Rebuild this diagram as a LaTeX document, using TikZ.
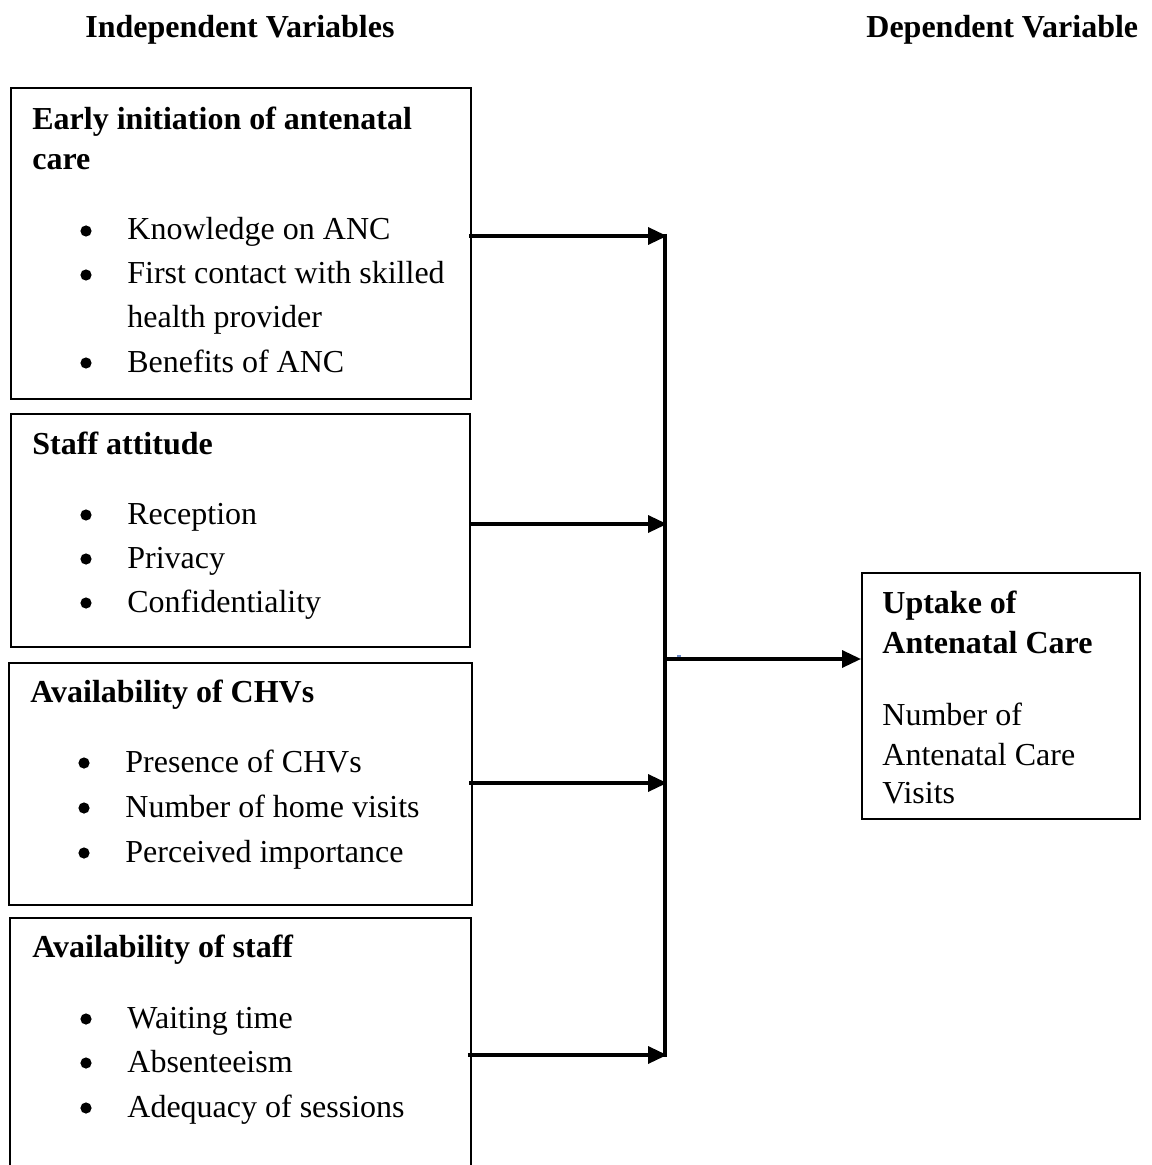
\documentclass[tikz,border=0pt]{standalone}
\usepackage{fontspec}
\setmainfont{Liberation Serif}
\usetikzlibrary{arrows.meta}
\definecolor{speck}{RGB}{110,140,200}
\begin{document}
\begin{tikzpicture}[x=0.5pt,y=-0.5pt,
  txt/.style={anchor=base west,inner sep=0pt,font=\fontsize{16pt}{22pt}\selectfont},
  ttl/.style={txt,font=\fontsize{16pt}{22pt}\selectfont\bfseries},
  dot/.style={circle,fill=black,inner sep=0pt,minimum size=5.6pt},
  boxframe/.style={draw,line width=1pt,inner sep=0pt,anchor=north west},
  arr/.style={line width=1.7pt,-{Triangle[length=9.5pt,width=8.5pt]}},
  vline/.style={line width=1.7pt}]
\useasboundingbox (0,0) rectangle (1151,1165);
% headers
\node[ttl] (hind) at (85,38) {Independent Variables};
\node[ttl] (hdep) at (866,38) {Dependent Variable};
% boxes
\node[boxframe,minimum width=230pt,minimum height=155.5pt] (b1) at (10,87) {};
\node[boxframe,minimum width=229.5pt,minimum height=116.5pt] (b2) at (10,413) {};
\node[boxframe,minimum width=231.5pt,minimum height=121pt] (b3) at (8,662) {};
\node[inner sep=0pt,anchor=north west,minimum width=230pt,minimum height=123.5pt] (b4) at (10,918) {};
\draw[line width=1pt] (b4.south west) -- (b4.north west) -- (b4.north east) -- (b4.south east);
\node[boxframe,minimum width=139pt,minimum height=123pt] (out) at (861,572) {};
% box 1 text
\node[ttl] (t1a) at (32,130) {Early initiation of antenatal};
\node[ttl] (t1b) at (32,170) {care};
\node[dot] (k1) at (86,231) {};
\node[txt] (k1t) at (127,240) {Knowledge on ANC};
\node[dot] (k2) at (86,275) {};
\node[txt] (k2t) at (127,284) {First contact with skilled};
\node[txt] (k2u) at (127,328) {health provider};
\node[dot] (k3) at (86,363) {};
\node[txt] (k3t) at (127,372) {Benefits of ANC};
% box 2 text
\node[ttl] (t2) at (32,454) {Staff attitude};
\node[dot] (s1) at (86,515) {};
\node[txt] (s1t) at (127,524) {Reception};
\node[dot] (s2) at (86,559) {};
\node[txt] (s2t) at (127,568) {Privacy};
\node[dot] (s3) at (86,603) {};
\node[txt] (s3t) at (127,612) {Confidentiality};
% box 3 text
\node[ttl] (t3) at (30,702) {Availability of CHVs};
\node[dot] (c1) at (84,763) {};
\node[txt] (c1t) at (125,772) {Presence of CHVs};
\node[dot] (c2) at (84,808) {};
\node[txt] (c2t) at (125,817) {Number of home visits};
\node[dot] (c3) at (84,853) {};
\node[txt] (c3t) at (125,862) {Perceived importance};
% box 4 text
\node[ttl] (t4) at (32,957) {Availability of staff};
\node[dot] (a1) at (86,1019) {};
\node[txt] (a1t) at (127,1028) {Waiting time};
\node[dot] (a2) at (86,1063) {};
\node[txt] (a2t) at (127,1072) {Absenteeism};
\node[dot] (a3) at (86,1108) {};
\node[txt] (a3t) at (127,1117) {Adequacy of sessions};
% outcome text
\node[ttl] (o1) at (882,613) {Uptake of};
\node[ttl] (o2) at (882,653) {Antenatal Care};
\node[txt] (o3) at (882,725) {Number of};
\node[txt] (o4) at (882,765) {Antenatal Care};
\node[txt] (o5) at (882,803) {Visits};
% connectors
\coordinate (j1) at (667,236);
\coordinate (j2) at (667,524);
\coordinate (j3) at (667,783);
\coordinate (j4) at (667,1055);
\coordinate (jm) at (664,659);
\draw[arr] ([xshift=-1.5pt]b1.east |- j1) -- (j1);
\draw[arr] ([xshift=-1pt]b2.east |- j2) -- (j2);
\draw[arr] ([xshift=-2pt]b3.east |- j3) -- (j3);
\draw[arr] ([xshift=-1.5pt]b4.east |- j4) -- (j4);
\draw[vline] (665,234) -- (665,1057);
\draw[arr] (jm) -- (out.west |- jm);
\fill[speck] (677,655) rectangle (681,657);
\end{tikzpicture}
\end{document}
